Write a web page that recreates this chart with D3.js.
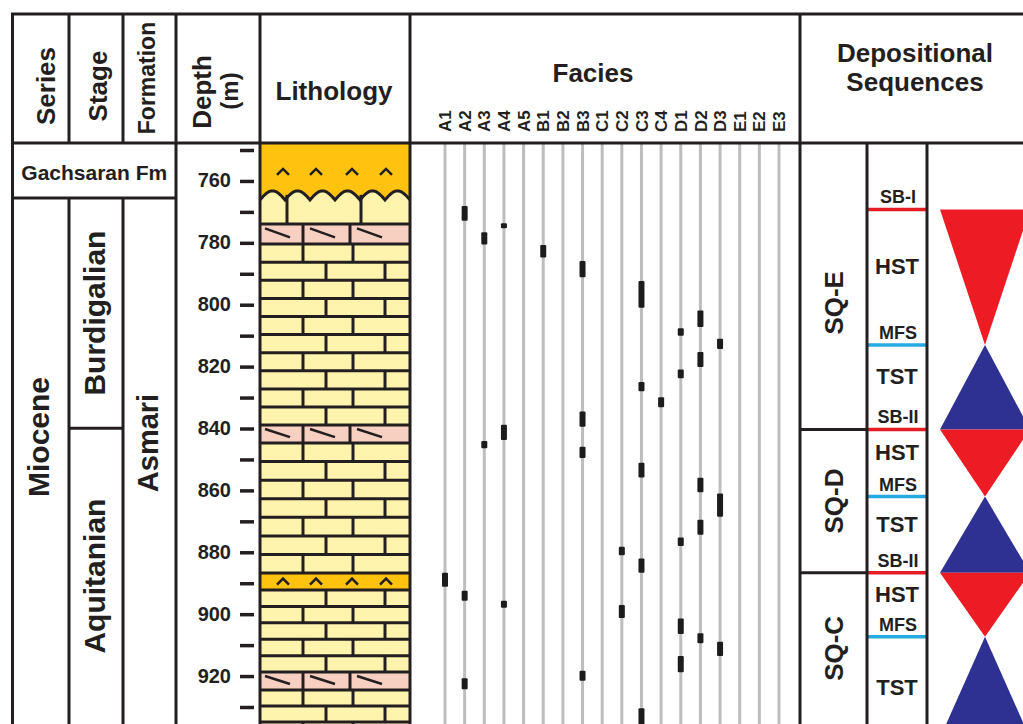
<!DOCTYPE html>
<html>
<head>
<meta charset="utf-8">
<script src="https://cdn.jsdelivr.net/npm/d3@7"></script>
<style>
body { margin: 0; background: #fff; }
text { font-family: "Liberation Sans", Arial, sans-serif; font-weight: bold; fill: #231f20; }
</style>
</head>
<body>
<div class="canvas"></div>
<script>
var depthTicks = d3.range(750, 931, 10);

var lithoTop  = [745, 764.5, 773.9, 780.4, 838.9, 844.7, 886.7, 892.2, 918.7, 924.5];
var lithoType = ['gypsum', 'limestone', 'dolomite', 'limestone', 'dolomite',
                 'limestone', 'gypsum', 'limestone', 'dolomite', 'limestone'];
var unconformity = 764.5;

var facies = ['A1', 'A2', 'A3', 'A4', 'A5', 'B1', 'B2', 'B3', 'C1', 'C2',
              'C3', 'C4', 'D1', 'D2', 'D3', 'E1', 'E2', 'E3'];

var markFacies = ['A2', 'A4', 'A3', 'B1', 'B3', 'C3', 'D2', 'D1', 'D3', 'D2', 'D1', 'C3',
                  'C4', 'B3', 'A4', 'A3', 'B3', 'C3', 'D2', 'D3', 'D2', 'D1', 'C2', 'C3',
                  'A1', 'A2', 'A4', 'C2', 'D1', 'D2', 'D3', 'D1', 'B3', 'A2', 'C3'];
var markTop  = [768.1, 773.7, 776.6, 780.7, 785.9, 792.3, 801.9, 807.6, 811.0, 815.3, 820.9, 825.0,
                829.9, 834.5, 838.8, 844.0, 845.9, 851.1, 855.9, 861.0, 869.5, 875.2, 878.2, 882.0,
                886.6, 892.4, 895.7, 897.0, 901.4, 906.2, 908.9, 913.5, 918.3, 920.7, 930.4];
var markBase = [772.9, 775.3, 780.5, 784.7, 791.1, 801.0, 807.2, 810.0, 814.3, 820.1, 823.8, 828.0,
                833.1, 839.4, 843.7, 846.4, 849.5, 855.8, 860.6, 868.5, 874.3, 878.0, 881.0, 886.6,
                891.1, 895.7, 897.9, 901.2, 906.4, 909.4, 913.5, 918.8, 921.5, 924.3, 936.0];

var surfName  = ['SB-I', 'MFS', 'SB-II', 'MFS', 'SB-II', 'MFS'];
var surfDepth = [769.2, 813.0, 840.3, 862.0, 886.6, 907.3];
var tractName = ['HST', 'TST', 'HST', 'TST', 'HST', 'TST'];
var sectionBase = 940;

var seqName = ['SQ-E', 'SQ-D', 'SQ-C'];
var seqBase = [840.3, 886.6, 940];

var stageName = ['Burdigalian', 'Aquitanian'];
var stageBase = [839.9, 940];
var asmariTop = 765.5;

// ---- layout ----
var width = 1023, height = 724,
    yTop = 14, head = 143, bottom = 724,
    xLeft = 12.5, xSeries = 69, xStage = 123, xForm = 176, xDepth = 260,
    xLitho = 410, xFacies = 800, xSq = 867, xTract = 927,
    ink = '#231f20';

var colors = { limestone: '#fff4ae', dolomite: '#f8d0c2', gypsum: '#ffc20e' };

var y = d3.scaleLinear().domain([750, 930]).range([150, 707]);
var fx = d3.scalePoint().domain(facies).range([445, 779]);

var svg = d3.select('.canvas').append('svg')
    .attr('width', width)
    .attr('height', height)
    .style('display', 'block');

svg.append('defs').append('clipPath').attr('id', 'body')
    .append('rect').attr('x', 0).attr('y', head).attr('width', width).attr('height', bottom - head);

var body = svg.append('g').attr('clip-path', 'url(#body)');

function line(g, x1, y1, x2, y2, w, c) {
    return g.append('line')
        .attr('x1', x1).attr('y1', y1).attr('x2', x2).attr('y2', y2)
        .attr('stroke', c || ink).attr('stroke-width', w || 3);
}

// ---- lithology ----
var LW = xLitho - xDepth;
var lithFill = body.append('g'), lithLines = body.append('g');
var rowCount = 0;
var wave = d3.range(xDepth, xLitho + 1, 1).map(function (x) {
    return [x, y(unconformity) + 5 - 9 * Math.abs(Math.sin(Math.PI * (x - xDepth) / 25))];
});

lithoTop.forEach(function (t, i) {
    var b = i < lithoTop.length - 1 ? lithoTop[i + 1] : sectionBase,
        y0 = y(t), y1 = y(b), h = y1 - y0, type = lithoType[i];

    lithFill.append('rect')
        .attr('x', xDepth).attr('y', y0).attr('width', LW).attr('height', h)
        .attr('fill', colors[type]);

    if (i > 0 && t !== unconformity) {
        line(lithLines, xDepth, y0, xLitho, y0);
    }

    if (type === 'limestone') {
        var usable = t === unconformity ? h - 8 : h,
            n = Math.max(1, Math.round(usable / 17.5)),
            rh = h / n;
        for (var r = 0; r < n; r++) {
            var ry = y0 + r * rh;
            if (r > 0) line(lithLines, xDepth, ry, xLitho, ry);
            var joints = t === unconformity ? [27, 101]
                : (rowCount++ % 2 === 0) ? [43, 93] : [66, 125];
            joints.forEach(function (j) {
                line(lithLines, xDepth + j, ry, xDepth + j, ry + rh);
            });
        }
    } else if (type === 'dolomite') {
        [43, 90].forEach(function (j) {
            line(lithLines, xDepth + j, y0, xDepth + j, y1);
        });
        [3, 48, 95].forEach(function (s) {
            line(lithLines, xDepth + s + 2, y0 + 0.22 * h, xDepth + s + 27, y0 + 0.67 * h, 2.5);
        });
    } else {
        var cy = (Math.max(y0, head) + y1) / 2;
        if (t < unconformity) cy = (head + y(unconformity)) / 2 + 3;
        [23, 56, 92, 126].forEach(function (c) {
            lithLines.append('path')
                .attr('d', 'M' + (xDepth + c - 6) + ',' + (cy + 3) + 'L' + (xDepth + c) + ',' + (cy - 3) +
                           'L' + (xDepth + c + 6) + ',' + (cy + 3))
                .attr('fill', 'none').attr('stroke', ink).attr('stroke-width', 2.5);
        });
    }
});

// erosional surface at the top of the Asmari
var uy = y(unconformity);
lithFill.append('path')
    .attr('d', 'M' + xDepth + ',' + (uy - 12) + 'L' + wave.map(String).join('L') + 'L' + xLitho + ',' + (uy - 12) + 'Z')
    .attr('fill', colors.gypsum);
lithFill.append('path')
    .attr('d', 'M' + xDepth + ',' + (uy + 10) + 'L' + wave.map(String).join('L') + 'L' + xLitho + ',' + (uy + 10) + 'Z')
    .attr('fill', colors.limestone);
lithLines.append('path')
    .attr('d', d3.line()(wave))
    .attr('fill', 'none').attr('stroke', ink).attr('stroke-width', 3);

// ---- facies ----
body.append('g').selectAll('line')
    .data(facies)
    .enter().append('line')
    .attr('x1', function (d) { return fx(d); })
    .attr('x2', function (d) { return fx(d); })
    .attr('y1', head).attr('y2', bottom)
    .attr('stroke', '#bdbdbd').attr('stroke-width', 3);

body.append('g').selectAll('rect')
    .data(markFacies.map(function (f, i) { return { f: f, t: markTop[i], b: markBase[i] }; }))
    .enter().append('rect')
    .attr('x', function (d) { return fx(d.f) - 3; })
    .attr('y', function (d) { return y(d.t); })
    .attr('width', 6)
    .attr('height', function (d) { return y(d.b) - y(d.t); })
    .attr('rx', 1)
    .attr('fill', '#1c1c1c');

svg.append('g').selectAll('text')
    .data(facies)
    .enter().append('text')
    .attr('transform', function (d) { return 'translate(' + fx(d) + ',132) rotate(-90)'; })
    .attr('dy', '0.36em')
    .attr('font-size', 17)
    .text(function (d) { return d; });

// ---- systems tracts ----
var tracts = tractName.map(function (n, i) {
    return { name: n, top: surfDepth[i], base: i < surfDepth.length - 1 ? surfDepth[i + 1] : sectionBase };
});
var tcx = 985, thw = 45;

body.append('g').selectAll('path')
    .data(tracts)
    .enter().append('path')
    .attr('d', function (d) {
        var a = y(d.top), b = y(d.base);
        return d.name === 'HST'
            ? 'M' + (tcx - thw) + ',' + a + 'L' + (tcx + thw) + ',' + a + 'L' + tcx + ',' + b + 'Z'
            : 'M' + tcx + ',' + a + 'L' + (tcx + thw) + ',' + b + 'L' + (tcx - thw) + ',' + b + 'Z';
    })
    .attr('fill', function (d) { return d.name === 'HST' ? '#ed1c24' : '#2e3192'; });

surfDepth.forEach(function (d, i) {
    line(body, xSq, y(d), xTract, y(d), 3.5, surfName[i] === 'MFS' ? '#27aae1' : '#e31e24');
    body.append('text')
        .attr('x', (xSq + xTract) / 2 + 1).attr('y', y(d) - 6)
        .attr('text-anchor', 'middle').attr('font-size', 18)
        .text(surfName[i]);
});

tracts.forEach(function (d, i) {
    var a = y(d.top),
        b = i < tracts.length - 1 ? y(d.base) - 22 : y(d.base);
    body.append('text')
        .attr('x', (xSq + xTract) / 2).attr('y', (a + b) / 2 + 8)
        .attr('text-anchor', 'middle').attr('font-size', 22)
        .text(d.name);
});

// ---- sequences ----
seqName.forEach(function (n, i) {
    var a = i === 0 ? (head + y(surfDepth[0])) / 2 : y(seqBase[i - 1]),
        b = Math.min(y(seqBase[i]), bottom);
    if (i < seqName.length - 1) line(body, xFacies, y(seqBase[i]), xSq, y(seqBase[i]));
    body.append('text')
        .attr('transform', 'translate(843,' + ((a + b) / 2) + ') rotate(-90)')
        .attr('text-anchor', 'middle').attr('font-size', 26)
        .text(n);
});

// ---- depth axis ----
var axis = d3.axisLeft(y)
    .tickValues(depthTicks)
    .tickSize(14)
    .tickPadding(9)
    .tickFormat(function (d) { return d % 20 === 0 ? d : ''; });

var ax = body.append('g')
    .attr('transform', 'translate(254,0)')
    .call(axis);
ax.select('.domain').remove();
ax.selectAll('line').attr('stroke', ink).attr('stroke-width', 3.5);
ax.selectAll('text').attr('font-size', 20).attr('fill', ink).attr('dy', '0.3em');

// ---- frame ----
var frame = svg.append('g');
line(frame, xLeft - 1.5, yTop, width, yTop);
line(frame, xLeft, head, width, head);
[xLeft, xForm, xDepth, xLitho, xFacies].forEach(function (x) { line(frame, x, yTop, x, bottom); });
[xSeries, xStage].forEach(function (x) {
    line(frame, x, yTop, x, head);
    line(frame, x, y(asmariTop), x, bottom);
});
line(frame, xLeft, y(asmariTop), xForm, y(asmariTop));
line(frame, xSeries, y(stageBase[0]), xStage, y(stageBase[0]));
[xSq, xTract].forEach(function (x) { line(frame, x, head, x, bottom); });

// ---- headers ----
function vtext(x, yy, s, size, weight) {
    return svg.append('text')
        .attr('transform', 'translate(' + x + ',' + yy + ') rotate(-90)')
        .attr('text-anchor', 'middle')
        .attr('font-size', size)
        .attr('font-weight', weight || 'bold')
        .text(s);
}
function htext(x, yy, s, size) {
    return svg.append('text')
        .attr('x', x).attr('y', yy)
        .attr('text-anchor', 'middle')
        .attr('font-size', size)
        .text(s);
}

vtext(55, 86, 'Series', 26);
vtext(107, 86, 'Stage', 26);
vtext(155, 78, 'Formation', 23, 'normal');
vtext(211, 92, 'Depth', 26);
vtext(238, 91, '(m)', 24);
htext(334, 100, 'Lithology', 26);
htext(593, 82, 'Facies', 26);
htext(915, 62, 'Depositional', 26);
htext(915, 91, 'Sequences', 26);

// ---- units ----
htext((xLeft + xForm) / 2, 180, 'Gachsaran Fm', 21);
vtext(49, 437, 'Miocene', 30);
vtext(158, 443, 'Asmari', 29);
stageName.forEach(function (n, i) {
    var a = i === 0 ? y(asmariTop) : y(stageBase[i - 1]),
        b = Math.min(y(stageBase[i]), bottom);
    vtext(105, (a + b) / 2, n, 30);
});
</script>
</body>
</html>
